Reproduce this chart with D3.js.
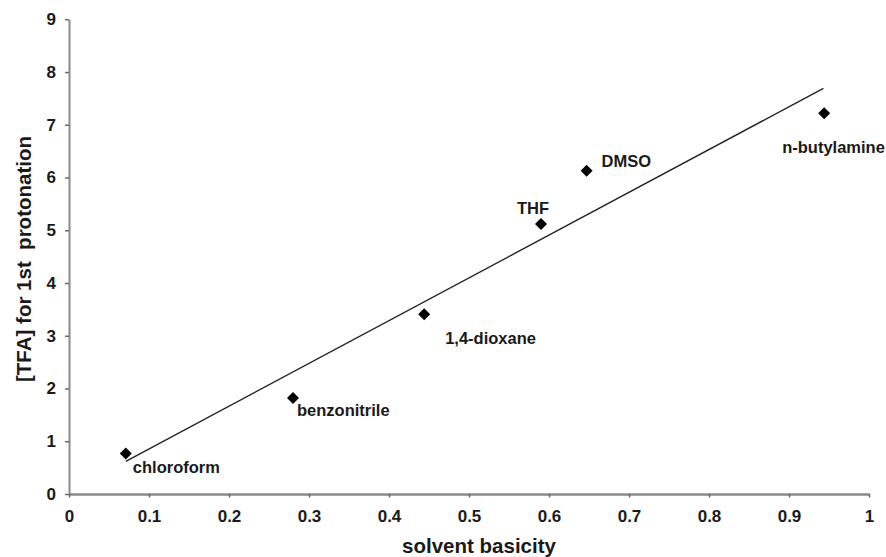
<!DOCTYPE html>
<html>
<head>
<meta charset="utf-8">
<script src="https://cdn.jsdelivr.net/npm/d3@7"></script>
<style>
  html, body { margin: 0; padding: 0; background: #fff; }
  svg { display: block; }
  text { font-family: "Liberation Sans", Arial, sans-serif; font-weight: bold; fill: #1a1a1a; }
</style>
</head>
<body>
<svg id="chart" width="886" height="557"></svg>
<script>
// ---- data ----
const solvents = ["chloroform", "benzonitrile", "1,4-dioxane", "THF", "DMSO", "n-butylamine"];
const basicity = [0.071, 0.280, 0.444, 0.590, 0.647, 0.944];
const tfa = [0.77, 1.82, 3.41, 5.12, 6.13, 7.22];
const trendX = [0.071, 0.943];
const trendY = [0.62, 7.69];
const xTicks = [0, 0.1, 0.2, 0.3, 0.4, 0.5, 0.6, 0.7, 0.8, 0.9, 1];
const xTickLabels = ["0", "0.1", "0.2", "0.3", "0.4", "0.5", "0.6", "0.7", "0.8", "0.9", "1"];
const yTicks = [0, 1, 2, 3, 4, 5, 6, 7, 8, 9];
const yTickLabels = ["0", "1", "2", "3", "4", "5", "6", "7", "8", "9"];
const xTitle = "solvent basicity";
const yTitle = "[TFA] for 1st  protonation";

// ---- layout ----
const W = 886, H = 557;
const margin = { left: 69, right: 17, top: 19.3, bottom: 63 };
const labelOffset = {
  "chloroform": [7, 19.5],
  "benzonitrile": [4, 18],
  "1,4-dioxane": [21, 30],
  "THF": [-24, -10],
  "DMSO": [15, -3.5],
  "n-butylamine": [-42, 40]
};

const svg = d3.select("#chart");
const x = d3.scaleLinear().domain([0, 1]).range([margin.left, W - margin.right]);
const y = d3.scaleLinear().domain([0, 9]).range([H - margin.bottom, margin.top]);

// y axis
const gy = svg.append("g")
  .attr("transform", `translate(${margin.left},0)`)
  .call(d3.axisLeft(y).tickValues(yTicks)
    .tickFormat((d, i) => yTickLabels[i])
    .tickSize(4).tickPadding(9).tickSizeOuter(0));
gy.select(".domain").attr("stroke", "#8a8a8a").attr("stroke-width", 2);
gy.selectAll(".tick line").attr("stroke", "#6a6a6a").attr("stroke-width", 1.5);
gy.selectAll(".tick text").style("font-size", "17px").attr("fill", "#1a1a1a");

// x axis
const gx = svg.append("g")
  .attr("transform", `translate(0,${H - margin.bottom})`)
  .call(d3.axisBottom(x).tickValues(xTicks)
    .tickFormat((d, i) => xTickLabels[i])
    .tickSize(3.5).tickPadding(12).tickSizeOuter(0));
gx.select(".domain").attr("stroke", "#8a8a8a").attr("stroke-width", 2.5);
gx.selectAll(".tick line").attr("stroke", "#6a6a6a").attr("stroke-width", 1.5);
gx.selectAll(".tick text").style("font-size", "17px").attr("fill", "#1a1a1a");

// axis titles
svg.append("text")
  .attr("x", 479).attr("y", 553)
  .attr("text-anchor", "middle")
  .style("font-size", "20.5px")
  .text(xTitle);

svg.append("text")
  .attr("transform", `translate(30.7,259) rotate(-90)`)
  .attr("text-anchor", "middle")
  .style("font-size", "20.5px")
  .style("white-space", "pre")
  .text(yTitle);

// trend line
svg.append("line")
  .attr("x1", x(trendX[0])).attr("y1", y(trendY[0]))
  .attr("x2", x(trendX[1])).attr("y2", y(trendY[1]))
  .attr("stroke", "#222").attr("stroke-width", 1.4);

// points
const pts = solvents.map((s, i) => ({ name: s, bx: basicity[i], ty: tfa[i] }));
const diamond = d3.symbol().type(d3.symbolSquare).size(72);
svg.append("g").selectAll("path").data(pts).join("path")
  .attr("d", diamond)
  .attr("transform", d => `translate(${x(d.bx)},${y(d.ty)}) rotate(45)`)
  .attr("fill", "#000");

// labels
svg.append("g").selectAll("text").data(pts).join("text")
  .attr("x", d => x(d.bx) + labelOffset[d.name][0])
  .attr("y", d => y(d.ty) + labelOffset[d.name][1])
  .style("font-size", "16.5px")
  .text(d => d.name);
</script>
</body>
</html>
